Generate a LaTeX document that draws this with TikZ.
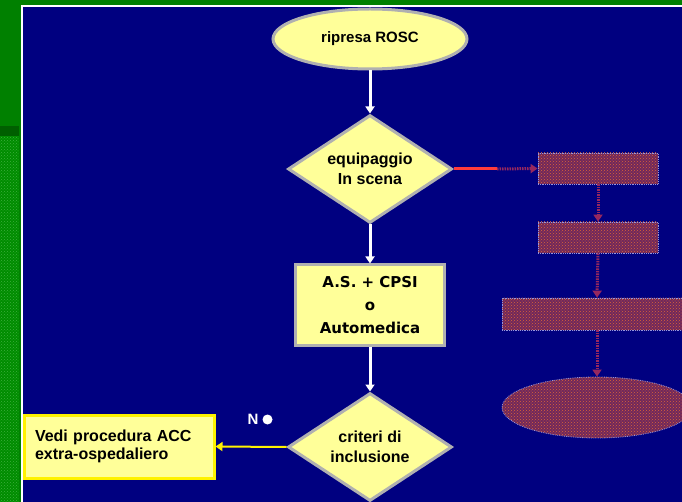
\documentclass[tikz,border=0pt]{standalone}
\usepackage{fontspec}
\setmainfont{Liberation Sans}
\newfontfamily\dvsans{DejaVu Sans}
\usetikzlibrary{shapes.geometric,arrows.meta,patterns}
\definecolor{bgnavy}{RGB}{0,0,128}
\definecolor{leafgreen}{RGB}{0,128,0}
\definecolor{texgreen}{RGB}{0,140,0}
\definecolor{texdots}{RGB}{60,175,60}
\definecolor{bandgreen}{RGB}{0,95,0}
\definecolor{paleyellow}{RGB}{255,255,153}
\definecolor{shapegray}{RGB}{176,176,176}
\definecolor{hatchfill}{RGB}{112,40,92}
\definecolor{hatchdots}{RGB}{220,100,55}
\definecolor{hatchedge}{RGB}{150,150,220}
\definecolor{dotline}{RGB}{150,40,95}
\definecolor{redline}{RGB}{255,60,60}
\begin{document}
\begin{tikzpicture}[x=1pt,y=-1pt,
  txt/.style={font=\bfseries\fontsize{16}{20}\selectfont, align=center, text=black},
  startell/.style={ellipse, draw=shapegray, line width=3pt, fill=paleyellow,
     minimum width=194pt, minimum height=60pt, inner sep=0pt,
     font=\bfseries\fontsize{15}{18}\selectfont},
  decision/.style={diamond, draw=shapegray, line width=3pt, fill=paleyellow,
     shape aspect=1.5, minimum width=164pt, minimum height=108pt, inner sep=0pt, txt},
  procbox/.style={rectangle, draw=shapegray, line width=3pt, fill=paleyellow,
     minimum width=149pt, minimum height=80pt, inner sep=0pt, align=center,
     font=\dvsans\bfseries\fontsize{15}{23}\selectfont},
  exitbox/.style={rectangle, draw=yellow, line width=3pt, fill=paleyellow,
     minimum height=63pt, text width=168pt, inner xsep=11pt, align=left,
     font=\bfseries\fontsize{16}{18}\selectfont},
  hatched/.style={draw=hatchedge, densely dotted, line width=0.8pt,
     preaction={fill=hatchfill}, pattern=crosshatch dots, pattern color=hatchdots,
     inner sep=0pt},
  hatchrect/.style={rectangle, hatched},
  hatchell/.style={ellipse, hatched},
  flow/.style={draw=white, line width=3pt, -{Triangle[width=9pt,length=7pt]}},
  dotflow/.style={draw=dotline, line width=3pt, dash pattern=on 1.5pt off 1pt,
     -{Triangle[width=9pt,length=7pt]}},
  yelflow/.style={draw=yellow, line width=2pt, -{Triangle[width=9pt,length=7pt]}}
]
\useasboundingbox (0,0) rectangle (682,502);
\clip (0,0) rectangle (682,502);
% background
\fill[leafgreen] (0,0) rectangle (682,502);
\fill[texgreen] (0,136) rectangle (19,502);
\fill[pattern=crosshatch dots, pattern color=texdots] (0,136) rectangle (19,502);
\fill[bandgreen] (0,126) rectangle (19,136);
\fill[white] (21,5) rectangle (682,502);
\fill[bgnavy] (23,7) rectangle (682,502);

% main flow
\node[startell] (ros) at (370,39) {ripresa ROSC};
\node[decision] (d1) at (370,169) {equipaggio\\In scena};
\node[procbox] (as) at (370,305) {A.S. +\,\,CPSI\\o\\Automedica};
\node[decision] (d2) at (370,447) {criteri di\\inclusione};
\node[exitbox] (vedi) at (119,446.5) {Vedi procedura ACC\\extra-ospedaliero};

\draw[flow] (ros.south) -- (d1.north);
\draw[flow] (d1.south) -- (as.north);
\draw[flow] (as.south) -- (d2.north);
\draw[yelflow] (d2.west) -- (vedi.east);

\node[font=\bfseries\fontsize{15}{18}\selectfont, text=white, inner sep=0pt] (nolab) at (253,419) {N};
\node[circle, fill=white, minimum size=10pt, inner sep=0pt] (nodot) at (267.5,419.5) {};

% right (hatched) branch
\node[hatchrect, minimum width=120pt, minimum height=31pt] (b1) at (598,168.5) {};
\node[hatchrect, minimum width=120pt, minimum height=31pt] (b2) at (598,237.5) {};
\node[hatchrect, minimum width=190pt, minimum height=32pt] (b3) at (597,314) {};
\node[hatchell, minimum width=190pt, minimum height=61pt] (b4) at (597,407.5) {};

\coordinate (rj) at (497,169);
\draw[redline, line width=3pt] (d1.east) -- (rj);
\draw[dotflow] (rj) -- (b1.west);
\draw[dotflow] (b1.south) -- (b2.north);
\draw[dotflow] (b2.south) -- (b3.north);
\draw[dotflow] (b3.south) -- (b4.north);
\end{tikzpicture}
\end{document}
